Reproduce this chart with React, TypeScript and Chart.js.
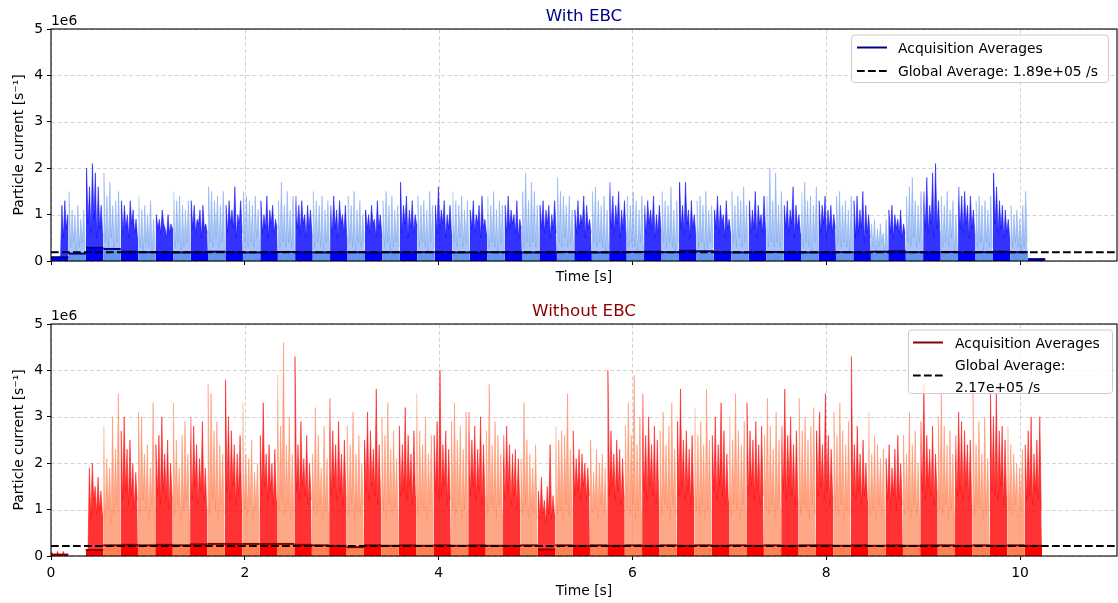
import React, { useEffect, useRef } from "react";
import { Chart, registerables } from "chart.js";

Chart.register(...registerables);

// ---------------- data ----------------
const X_TICKS_S = [0, 2, 4, 6, 8, 10];
const Y_TICKS_1E5 = [0, 10, 20, 30, 40, 50];
const X_MAX_S = 11;
const Y_MAX_1E5 = 50;

const EBC_ACQ_DURATION_S = 0.18;
const NOEBC_ACQ_DURATION_S = 0.1794;
const EBC_GLOBAL_AVG_1E5 = 1.89;
const NOEBC_GLOBAL_AVG_1E5 = 2.17;

// sampled particle current per acquisition (12 samples each), units of 1e5 /s
const EBC_SPIKES_1E5: number[][] = [
  [0, 1, 0, 1, 0, 1, 0, 12, 5, 13, 7, 10],
  [15, 3, 11, 4, 10, 2, 12, 3, 9, 4, 11, 3],
  [20, 8, 16, 6, 21, 9, 19, 5, 16, 7, 12, 6],
  [19, 4, 14, 3, 17, 5, 12, 3, 13, 4, 15, 3],
  [13, 6, 12, 7, 10, 5, 13, 8, 11, 6, 9, 5],
  [14, 3, 11, 2, 12, 4, 10, 3, 13, 2, 9, 3],
  [10, 7, 9, 6, 11, 8, 7, 5, 10, 6, 8, 7],
  [15, 3, 13, 4, 14, 2, 12, 3, 11, 4, 13, 3],
  [13, 7, 12, 6, 9, 8, 11, 5, 12, 7, 8, 6],
  [16, 4, 15, 3, 13, 5, 14, 3, 12, 4, 15, 2],
  [12, 6, 13, 8, 11, 7, 16, 5, 10, 8, 13, 6],
  [15, 4, 14, 3, 13, 4, 12, 3, 14, 5, 11, 3],
  [13, 6, 10, 7, 14, 5, 11, 8, 12, 6, 9, 7],
  [13, 3, 17, 4, 12, 3, 15, 4, 11, 3, 14, 2],
  [14, 7, 12, 6, 13, 8, 10, 5, 12, 7, 11, 6],
  [15, 3, 13, 4, 12, 3, 14, 2, 11, 4, 13, 3],
  [12, 6, 14, 7, 11, 5, 13, 8, 10, 6, 12, 5],
  [14, 4, 12, 3, 15, 2, 11, 4, 13, 3, 10, 4],
  [11, 7, 10, 6, 12, 8, 9, 5, 13, 7, 10, 6],
  [13, 3, 15, 4, 12, 2, 14, 3, 11, 4, 12, 3],
  [17, 6, 12, 8, 14, 5, 11, 7, 13, 6, 10, 8],
  [14, 3, 12, 4, 13, 3, 11, 2, 15, 4, 12, 3],
  [12, 6, 16, 7, 11, 8, 13, 5, 10, 7, 12, 6],
  [15, 4, 13, 3, 12, 5, 14, 3, 11, 4, 13, 2],
  [11, 7, 13, 6, 10, 8, 12, 5, 14, 7, 9, 6],
  [14, 3, 12, 4, 15, 3, 11, 2, 13, 4, 12, 3],
  [12, 6, 14, 7, 11, 8, 10, 6, 13, 5, 9, 7],
  [15, 3, 19, 4, 13, 3, 17, 4, 15, 3, 12, 4],
  [12, 7, 13, 6, 11, 8, 12, 5, 10, 7, 13, 6],
  [18, 4, 15, 3, 14, 5, 12, 3, 14, 4, 11, 3],
  [11, 6, 13, 7, 10, 8, 14, 5, 12, 7, 9, 6],
  [15, 4, 16, 3, 13, 4, 12, 3, 14, 2, 11, 3],
  [17, 7, 14, 6, 12, 8, 15, 5, 11, 7, 13, 6],
  [14, 3, 12, 4, 15, 3, 13, 2, 11, 4, 14, 3],
  [12, 6, 13, 8, 11, 7, 14, 5, 10, 6, 12, 7],
  [15, 4, 13, 3, 12, 4, 16, 3, 11, 2, 13, 4],
  [17, 7, 12, 6, 17, 8, 11, 5, 13, 7, 10, 6],
  [13, 3, 14, 4, 12, 2, 15, 3, 11, 4, 12, 3],
  [11, 7, 14, 6, 12, 8, 10, 5, 13, 7, 9, 6],
  [15, 4, 12, 3, 14, 5, 13, 3, 16, 4, 12, 2],
  [13, 6, 11, 7, 15, 5, 12, 8, 10, 6, 14, 7],
  [14, 3, 20, 4, 13, 3, 19, 4, 12, 3, 15, 4],
  [12, 7, 13, 6, 11, 8, 16, 5, 12, 7, 10, 6],
  [15, 3, 17, 4, 13, 3, 14, 2, 12, 4, 16, 3],
  [13, 6, 12, 8, 14, 5, 11, 7, 12, 6, 10, 7],
  [14, 4, 15, 3, 12, 4, 13, 3, 11, 2, 14, 4],
  [13, 5, 14, 6, 11, 7, 15, 4, 12, 6, 10, 5],
  [8, 3, 9, 2, 7, 3, 8, 4, 6, 2, 9, 3],
  [11, 6, 12, 5, 10, 7, 9, 6, 11, 5, 8, 6],
  [14, 4, 16, 3, 18, 5, 13, 3, 12, 4, 15, 3],
  [15, 7, 18, 6, 12, 8, 19, 5, 21, 7, 13, 6],
  [14, 3, 12, 4, 15, 3, 11, 5, 13, 2, 10, 3],
  [16, 7, 14, 6, 15, 8, 12, 5, 14, 7, 11, 6],
  [13, 3, 14, 4, 12, 2, 13, 4, 11, 3, 14, 3],
  [19, 8, 16, 6, 13, 7, 12, 5, 11, 6, 9, 5],
  [12, 3, 10, 4, 11, 3, 9, 2, 12, 3, 15, 4],
  [0.5, 0.3, 0.5, 0.3, 0.5, 0.3, 0.5, 0.3, 0.5, 0.3, 0.5, 0.3],
];

const EBC_ACQ_AVG_1E5: (number | null)[] = [
  0.8, 1.6, 2.85, 2.6, 2.0, 1.9, 1.9, 1.85, 1.9, 2.0,
  1.9, 1.85, 1.9, 1.95, 1.9, 1.85, 1.9, 1.9, 1.8, 1.9,
  1.85, 1.9, 1.95, 1.85, 1.8, 1.9, 1.9, 1.85, 1.9, 1.95,
  1.9, 1.85, 1.9, 1.95, 2.0, 1.9, 2.2, 2.1, 1.9, 1.85,
  1.9, 1.95, 1.9, 1.85, 1.9, 1.9, 1.85, 2.0, 2.1, 1.9,
  1.9, 1.95, 1.85, 1.9, 2.0, 1.9, 0.4,
];

const NOEBC_SPIKES_1E5: number[][] = [
  [1, 0, 0.5, 0, 1, 0, 0.5, 0, 1, 0, 0.5, 0],
  [0, 0, 0, 0, 0, 0, 0, 0, 0, 0, 0, 0],
  [0, 0, 19, 8, 20, 12, 15, 9, 17, 10, 14, 9],
  [28, 8, 21, 10, 19, 7, 30, 9, 23, 11, 35, 8],
  [27, 12, 30, 14, 23, 11, 25, 13, 20, 10, 18, 12],
  [31, 9, 30, 12, 22, 10, 24, 8, 19, 11, 33, 9],
  [24, 13, 26, 11, 30, 14, 22, 12, 25, 10, 20, 13],
  [33, 9, 25, 11, 19, 8, 26, 10, 29, 12, 22, 8],
  [30, 12, 28, 15, 24, 11, 21, 14, 29, 12, 19, 10],
  [37, 9, 35, 12, 27, 10, 29, 8, 24, 11, 22, 9],
  [38, 14, 30, 12, 27, 15, 24, 11, 22, 13, 26, 12],
  [33, 10, 22, 9, 21, 11, 25, 8, 18, 10, 20, 9],
  [26, 13, 33, 15, 22, 12, 24, 14, 20, 11, 23, 12],
  [39, 10, 28, 12, 46, 9, 24, 11, 30, 8, 22, 10],
  [43, 14, 24, 12, 29, 15, 21, 13, 26, 11, 20, 12],
  [22, 10, 32, 9, 26, 11, 19, 8, 28, 10, 21, 9],
  [34, 13, 27, 15, 24, 12, 29, 14, 22, 11, 25, 13],
  [28, 9, 24, 11, 31, 8, 22, 10, 26, 9, 20, 11],
  [25, 14, 31, 12, 27, 15, 23, 13, 36, 11, 24, 12],
  [30, 10, 26, 8, 33, 11, 23, 9, 27, 10, 21, 8],
  [28, 13, 24, 14, 32, 12, 26, 15, 22, 11, 27, 13],
  [35, 9, 27, 11, 24, 10, 30, 8, 22, 11, 26, 9],
  [26, 14, 29, 12, 40, 13, 24, 15, 27, 11, 23, 12],
  [29, 10, 33, 9, 25, 11, 28, 8, 23, 10, 31, 9],
  [31, 13, 25, 15, 28, 12, 23, 14, 30, 11, 24, 13],
  [27, 9, 37, 11, 24, 10, 29, 8, 26, 11, 22, 9],
  [26, 12, 28, 14, 24, 11, 22, 13, 23, 10, 21, 12],
  [21, 9, 33, 11, 25, 8, 22, 10, 19, 9, 24, 8],
  [14, 8, 17, 9, 12, 7, 15, 9, 24, 8, 13, 9],
  [28, 9, 25, 10, 27, 8, 26, 11, 35, 9, 23, 10],
  [27, 13, 21, 14, 23, 12, 22, 15, 20, 12, 19, 13],
  [25, 9, 18, 10, 23, 8, 20, 11, 22, 9, 19, 8],
  [40, 13, 27, 15, 22, 12, 25, 14, 23, 11, 21, 13],
  [28, 10, 33, 9, 26, 11, 39, 8, 24, 10, 30, 9],
  [35, 14, 26, 12, 30, 15, 24, 13, 28, 11, 25, 12],
  [27, 9, 31, 11, 24, 10, 28, 8, 33, 11, 23, 9],
  [29, 13, 36, 15, 25, 12, 27, 14, 23, 11, 26, 13],
  [32, 10, 26, 9, 29, 11, 24, 8, 36, 10, 25, 9],
  [26, 14, 30, 12, 24, 15, 33, 13, 27, 11, 22, 12],
  [30, 9, 25, 11, 35, 10, 27, 8, 24, 11, 29, 9],
  [33, 13, 27, 15, 25, 12, 29, 14, 24, 11, 28, 13],
  [26, 10, 34, 9, 28, 11, 23, 8, 31, 10, 25, 9],
  [28, 14, 36, 12, 26, 15, 30, 13, 24, 11, 27, 12],
  [34, 9, 27, 11, 30, 10, 25, 8, 28, 11, 32, 9],
  [27, 13, 31, 15, 24, 12, 35, 14, 26, 11, 23, 13],
  [31, 10, 26, 9, 33, 11, 27, 8, 24, 10, 29, 9],
  [43, 13, 24, 12, 28, 14, 22, 11, 25, 13, 20, 12],
  [31, 9, 22, 10, 26, 8, 24, 11, 21, 9, 23, 8],
  [21, 12, 24, 11, 19, 13, 23, 10, 26, 12, 20, 11],
  [26, 9, 22, 10, 31, 8, 24, 11, 27, 9, 20, 8],
  [29, 14, 37, 12, 26, 15, 23, 13, 28, 11, 22, 14],
  [30, 10, 35, 9, 28, 11, 24, 8, 27, 10, 22, 9],
  [26, 13, 31, 14, 29, 12, 27, 15, 24, 12, 25, 11],
  [35, 9, 24, 11, 29, 10, 22, 8, 30, 9, 21, 10],
  [35, 14, 30, 13, 35, 12, 27, 15, 28, 11, 25, 13],
  [28, 10, 24, 9, 22, 11, 20, 8, 19, 10, 23, 9],
  [24, 12, 27, 13, 30, 11, 22, 14, 25, 12, 30, 10],
];

const NOEBC_ACQ_AVG_1E5: (number | null)[] = [
  0.3, null, 1.3, 2.3, 2.4, 2.3, 2.4, 2.3, 2.5, 2.6,
  2.6, 2.6, 2.6, 2.6, 2.4, 2.3, 2.2, 1.9, 2.3, 2.2,
  2.3, 2.2, 2.3, 2.2, 2.3, 2.2, 2.2, 2.3, 1.4, 2.3,
  2.2, 2.3, 2.2, 2.3, 2.2, 2.3, 2.2, 2.3, 2.2, 2.3,
  2.2, 2.3, 2.2, 2.3, 2.3, 2.2, 2.3, 2.2, 2.3, 2.2,
  2.3, 2.3, 2.2, 2.3, 2.2, 2.3, 2.2,
];

// ---------------- styling ----------------
const FONT = "DejaVu Sans";
const GRID_COLOR = "rgba(176,176,176,0.55)";

interface LegendRow {
  dashed: boolean;
  handleY: number;
  lines: string[];
  baselines: number[];
}
interface Panel {
  title: string;
  titleColor: string;
  spikes: number[][];
  avgs: (number | null)[];
  dur: number;
  globalAvg: number;
  darkFill: string;
  lightFill: string;
  darkSpike: [string, string, string];
  lightSpike: [string, string, string];
  avgColor: string;
  height: number;
  showXLabels: boolean;
  xTitlePadBottom: number;
  legend: { x: number; y: number; w: number; h: number; hx0: number; hx1: number; tx: number; rows: LegendRow[] };
}

const PANELS: Panel[] = [
  {
    title: "With EBC",
    titleColor: "#00008b",
    spikes: EBC_SPIKES_1E5,
    avgs: EBC_ACQ_AVG_1E5,
    dur: EBC_ACQ_DURATION_S,
    globalAvg: EBC_GLOBAL_AVG_1E5,
    darkFill: "#0000ff",
    lightFill: "#6495ed",
    darkSpike: ["rgba(0,0,255,0.5)", "rgba(0,0,254,0.5)", "rgba(0,0,255,0.8)"],
    lightSpike: ["rgba(100,149,237,0.4)", "rgba(100,149,236,0.4)", "rgba(100,149,237,0.55)"],
    avgColor: "#00008b",
    height: 295,
    showXLabels: false,
    xTitlePadBottom: 9,
    legend: {
      x: 851.5, y: 35, w: 257, h: 47.5, hx0: 857, hx1: 887, tx: 898,
      rows: [
        { dashed: false, handleY: 47.5, lines: ["Acquisition Averages"], baselines: [52.5] },
        { dashed: true, handleY: 71, lines: ["Global Average: 1.89e+05 /s"], baselines: [76] },
      ],
    },
  },
  {
    title: "Without EBC",
    titleColor: "#8b0000",
    spikes: NOEBC_SPIKES_1E5,
    avgs: NOEBC_ACQ_AVG_1E5,
    dur: NOEBC_ACQ_DURATION_S,
    globalAvg: NOEBC_GLOBAL_AVG_1E5,
    darkFill: "#ff0000",
    lightFill: "#ff7f50",
    darkSpike: ["rgba(255,0,0,0.5)", "rgba(254,0,0,0.5)", "rgba(255,0,0,0.8)"],
    lightSpike: ["rgba(255,127,80,0.45)", "rgba(254,127,80,0.45)", "rgba(255,127,80,0.68)"],
    avgColor: "#8b0000",
    height: 308,
    showXLabels: true,
    xTitlePadBottom: 3,
    legend: {
      x: 908.5, y: 35, w: 204, h: 63.5, hx0: 913, hx1: 943, tx: 955,
      rows: [
        { dashed: false, handleY: 47.5, lines: ["Acquisition Averages"], baselines: [52.7] },
        { dashed: true, handleY: 80.5, lines: ["Global Average:", "2.17e+05 /s"], baselines: [75, 96.7] },
      ],
    },
  },
];

function buildDatasets(p: Panel): any[] {
  const dark: any[] = [];
  const light: any[] = [];
  const masses: any[] = [];
  const floors: any[] = [];
  p.spikes.forEach((samples, i) => {
    const s = i * p.dur;
    const step = p.dur / samples.length;
    const isDark = i % 2 === 0;
    const target = isDark ? dark : light;
    const pts = samples.map((v, k) => ({ x: s + (k + 0.5) * step, y: v }));
    pts.forEach((pt) => target.push(pt));
    target.push({ x: s + p.dur, y: null });
    masses.push({
      type: "line",
      data: [{ x: s, y: samples[0] }, ...pts, { x: s + p.dur, y: samples[samples.length - 1] }],
      fill: "origin",
      backgroundColor: isDark ? p.darkSpike[2] : p.lightSpike[2],
      borderWidth: 0,
      borderColor: "rgba(0,0,0,0)",
      pointRadius: 0,
      order: 4,
    });
    const a = p.avgs[i];
    if (a !== null && a !== undefined) {
      floors.push({
        type: "line",
        data: [{ x: s, y: a }, { x: s + p.dur, y: a }],
        fill: "origin",
        backgroundColor: isDark ? p.darkFill : p.lightFill,
        borderColor: p.avgColor,
        borderWidth: 2,
        pointRadius: 0,
        order: 1,
      });
    }
  });
  const spikeDs = (data: any[], cols: [string, string, string], order: number) => ({
    type: "line",
    data,
    borderColor: cols[0],
    borderWidth: 1,
    pointRadius: 0,
    fill: false,
    spanGaps: false,
    order,
    segment: {
      borderColor: (ctx: any) => (ctx.p0DataIndex % 2 === 0 ? cols[0] : cols[1]),
    },
  });
  return [
    spikeDs(dark, p.darkSpike, 3),
    spikeDs(light, p.lightSpike, 2),
    ...masses,
    ...floors,
    {
      type: "line",
      data: [{ x: 0, y: p.globalAvg }, { x: X_MAX_S, y: p.globalAvg }],
      borderColor: "#000000",
      borderWidth: 2,
      borderDash: [7.7, 3.3],
      pointRadius: 0,
      fill: false,
      order: 0,
    },
  ];
}

function makeDecor(p: Panel) {
  return {
    id: "decor",
    beforeDatasetsDraw(chart: any) {
      const { ctx, chartArea: a, scales } = chart;
      ctx.save();
      ctx.strokeStyle = GRID_COLOR;
      ctx.lineWidth = 1;
      ctx.setLineDash([4, 2.5]);
      for (const v of X_TICKS_S) {
        const px = Math.round(scales.x.getPixelForValue(v)) + 0.5;
        ctx.beginPath();
        ctx.moveTo(px, a.bottom);
        ctx.lineTo(px, a.top);
        ctx.stroke();
      }
      for (const v of Y_TICKS_1E5) {
        const py = Math.round(scales.y.getPixelForValue(v)) + 0.5;
        ctx.beginPath();
        ctx.moveTo(a.left, py);
        ctx.lineTo(a.right, py);
        ctx.stroke();
      }
      ctx.restore();
    },
    afterDatasetsDraw(chart: any) {
      const { ctx, chartArea: a } = chart;
      ctx.save();
      ctx.strokeStyle = "#000";
      ctx.lineWidth = 1.1;
      ctx.setLineDash([]);
      ctx.strokeRect(a.left, a.top, a.right - a.left, a.bottom - a.top);
      ctx.restore();
    },
    afterDraw(chart: any) {
      const { ctx, chartArea: a } = chart;
      ctx.save();
      ctx.fillStyle = p.titleColor;
      ctx.font = `16.7px "${FONT}"`;
      ctx.textAlign = "center";
      ctx.textBaseline = "alphabetic";
      ctx.fillText(p.title, (a.left + a.right) / 2, 21);
      ctx.fillStyle = "#000";
      ctx.font = `13.9px "${FONT}"`;
      ctx.textAlign = "left";
      ctx.fillText("1e6", a.left, 25);
      const L = p.legend;
      ctx.fillStyle = "rgba(255,255,255,0.8)";
      ctx.strokeStyle = "#cccccc";
      ctx.lineWidth = 1;
      ctx.beginPath();
      (ctx as any).roundRect
        ? (ctx as any).roundRect(L.x, L.y, L.w, L.h, 3)
        : ctx.rect(L.x, L.y, L.w, L.h);
      ctx.fill();
      ctx.stroke();
      for (const r of L.rows) {
        ctx.beginPath();
        ctx.lineWidth = 2;
        ctx.strokeStyle = r.dashed ? "#000" : p.avgColor;
        ctx.setLineDash(r.dashed ? [7.7, 3.3] : []);
        ctx.moveTo(L.hx0, r.handleY);
        ctx.lineTo(L.hx1, r.handleY);
        ctx.stroke();
        ctx.setLineDash([]);
        ctx.fillStyle = "#000";
        r.lines.forEach((t, k) => ctx.fillText(t, L.tx, r.baselines[k]));
      }
      ctx.restore();
    },
  };
}

function buildConfig(p: Panel): any {
  const tickFont = { family: FONT, size: 13.9 };
  return {
    type: "line",
    data: { datasets: buildDatasets(p) },
    options: {
      animation: false,
      responsive: false,
      maintainAspectRatio: false,
      events: [],
      layout: { padding: { top: 29, right: 1, left: 0, bottom: 0 } },
      plugins: {
        legend: { display: false },
        tooltip: { enabled: false },
        title: { display: false },
      },
      scales: {
        x: {
          type: "linear",
          min: 0,
          max: X_MAX_S,
          afterBuildTicks: (s: any) => {
            s.ticks = X_TICKS_S.map((v) => ({ value: v }));
          },
          afterFit: (s: any) => {
            s.height = p.height - 261;
          },
          grid: { drawOnChartArea: false, drawTicks: true, tickLength: 4, tickColor: "#000", tickWidth: 1 },
          border: { display: false },
          ticks: {
            display: p.showXLabels,
            font: tickFont,
            color: "#000",
            padding: 5,
            maxRotation: 0,
            autoSkip: false,
            callback: (v: any) => String(v),
          },
          title: {
            display: true,
            text: "Time [s]",
            font: tickFont,
            color: "#000",
            padding: { top: 0, bottom: p.xTitlePadBottom },
          },
        },
        y: {
          type: "linear",
          min: 0,
          max: Y_MAX_1E5,
          afterBuildTicks: (s: any) => {
            s.ticks = Y_TICKS_1E5.map((v) => ({ value: v }));
          },
          afterFit: (s: any) => {
            s.width = 51;
          },
          grid: { drawOnChartArea: false, drawTicks: true, tickLength: 4, tickColor: "#000", tickWidth: 1 },
          border: { display: false },
          ticks: {
            font: tickFont,
            color: "#000",
            padding: 4,
            autoSkip: false,
            callback: (v: any) => String(Number(v) / 10),
          },
          title: {
            display: true,
            text: "Particle current [s\u207B\u00B9]",
            font: tickFont,
            color: "#000",
            padding: { top: 11, bottom: 0 },
          },
        },
      },
    },
    plugins: [makeDecor(p)],
  };
}

function PanelChart({ panel }: { panel: Panel }) {
  const ref = useRef<HTMLCanvasElement | null>(null);
  useEffect(() => {
    if (!ref.current) return;
    const chart = new Chart(ref.current, buildConfig(panel));
    return () => chart.destroy();
  }, [panel]);
  return (
    <canvas
      ref={ref}
      width={1118}
      height={panel.height}
      style={{ display: "block", width: "1118px", height: panel.height + "px" }}
    />
  );
}

export default function App() {
  return (
    <div style={{ position: "absolute", left: 0, top: 0, width: 1118, height: 603, background: "#ffffff" }}>
      <PanelChart panel={PANELS[0]} />
      <PanelChart panel={PANELS[1]} />
    </div>
  );
}
